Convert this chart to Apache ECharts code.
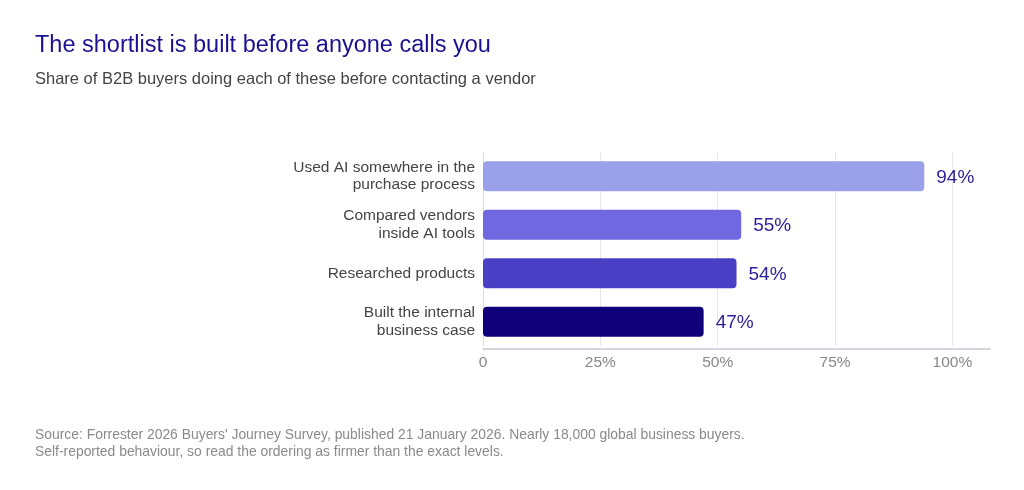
<!DOCTYPE html>
<html><head><meta charset="utf-8">
<script src="https://cdn.jsdelivr.net/npm/echarts@6/dist/echarts.min.js"></script>
<style>html,body{margin:0;padding:0;background:#fff}#c{width:1024px;height:490px}</style>
</head><body><div id="c"></div>
<script>
const categories = ["Used AI somewhere in the\npurchase process", "Compared vendors\ninside AI tools", "Researched products", "Built the internal\nbusiness case"];
const values = [94, 55, 54, 47];
const barColors = ["#9aa0ea", "#7068e0", "#4a40c6", "#10007a"];
const tickLabels = ["0", "25%", "50%", "75%", "100%"];
const titleText = "The shortlist is built before anyone calls you";
const subtitleText = "Share of B2B buyers doing each of these before contacting a vendor";
const footerText = "Source: Forrester 2026 Buyers' Journey Survey, published 21 January 2026. Nearly 18,000 global business buyers.\nSelf-reported behaviour, so read the ordering as firmer than the exact levels.";

const FONT = '"Liberation Sans", Arial, Helvetica, sans-serif';
const chart = echarts.init(document.getElementById('c'), null, {renderer: 'canvas'});
chart.setOption({
  backgroundColor: '#ffffff',
  textStyle: {fontFamily: FONT},
  title: [
    {text: titleText, left: 35, top: 34, padding: 0, textStyle: {fontFamily: FONT, fontSize: 23.5, fontWeight: 'normal', color: '#1b1190'}},
    {text: subtitleText, left: 35, top: 71, padding: 0, textStyle: {fontFamily: FONT, fontSize: 16.5, fontWeight: 'normal', color: '#444444'}},
    {text: footerText, left: 35, top: 427, padding: 0, textStyle: {fontFamily: FONT, fontSize: 13.9, fontWeight: 'normal', color: '#8a8a8a', lineHeight: 16.5}}
  ],
  grid: {left: 483, right: 34, top: 152, bottom: 144, containLabel: false},
  xAxis: {
    type: 'value', min: 0, max: 108, interval: 25, offset: 3,
    axisLine: {show: true, lineStyle: {color: '#c9c9d6', width: 1.5}},
    axisTick: {show: false},
    splitLine: {show: true, showMinLine: false, showMaxLine: false, lineStyle: {color: '#e6e6ef', width: 1}},
    axisLabel: {
      showMaxLabel: false, color: '#888888', fontSize: 15.5, margin: 6, fontFamily: FONT,
      formatter: function (v) { const i = Math.round(v / 25); return (v % 25 === 0 && i < tickLabels.length) ? tickLabels[i] : ''; }
    }
  },
  yAxis: {
    type: 'category', data: categories, inverse: true,
    axisLine: {show: true, lineStyle: {color: '#dcdcec', width: 1}},
    axisTick: {show: false},
    axisLabel: {color: '#444444', fontSize: 15.5, lineHeight: 17.5, margin: 8, fontFamily: FONT, align: 'right'}
  },
  series: [{
    type: 'bar',
    data: values.map((v, i) => ({value: v, itemStyle: {color: barColors[i]}})),
    barWidth: 30,
    itemStyle: {borderRadius: 4},
    label: {show: true, position: 'right', distance: 12, offset: [0, 1.5], formatter: '{c}%', color: '#2a1f96', fontSize: 19, fontFamily: FONT},
    silent: true,
    animation: false
  }]
});
</script></body></html>
